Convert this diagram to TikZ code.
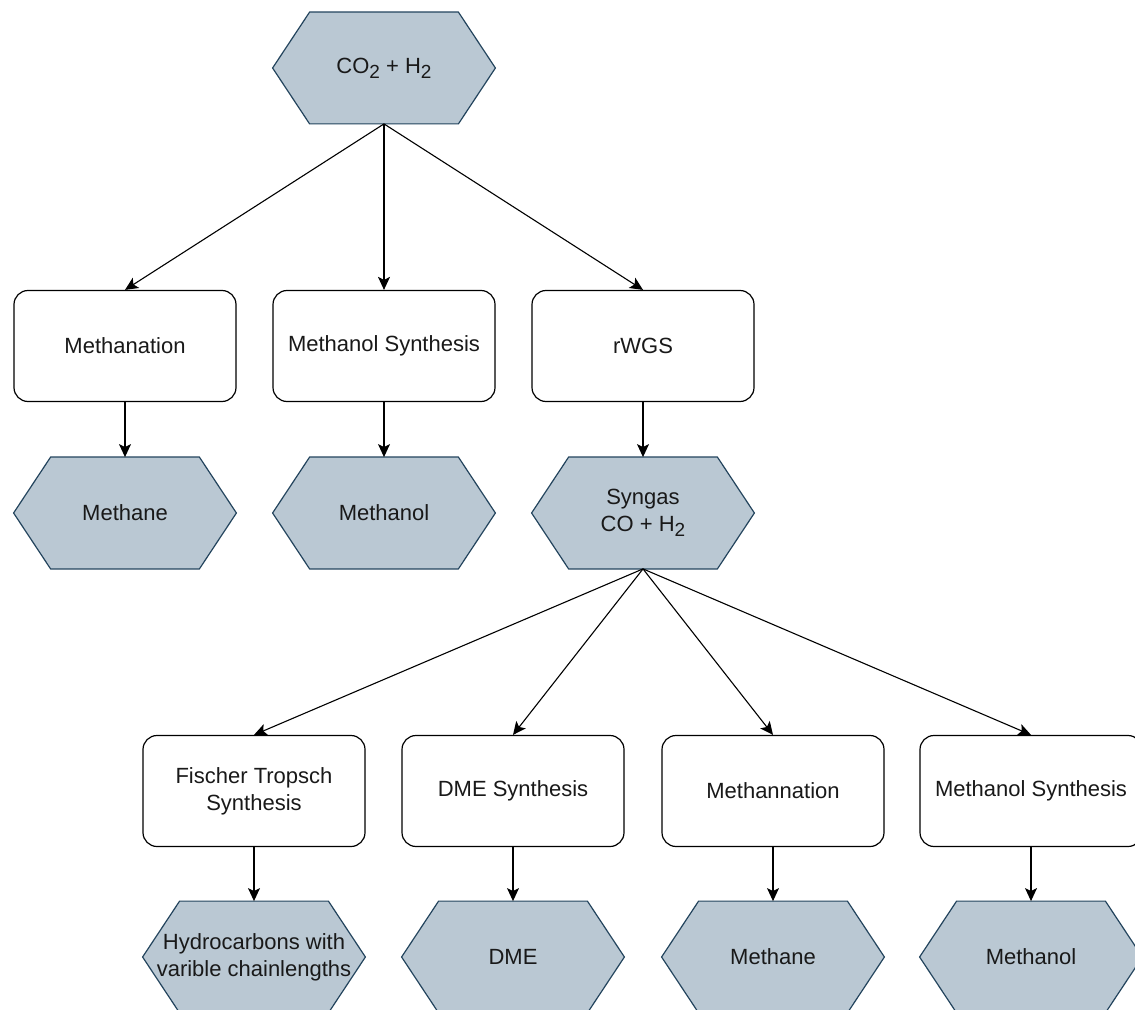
\documentclass[tikz,border=0pt]{standalone}
\usepackage{fontspec}
\setmainfont{Liberation Sans}
\usetikzlibrary{arrows.meta}
\pgfdeclarelayer{bg}\pgfsetlayers{bg,main}
\definecolor{hexfill}{HTML}{BAC8D3}
\definecolor{hexline}{HTML}{23445D}
\newcommand\subtwo{\raisebox{-2.6pt}{\fontsize{9.5}{9.5}\selectfont 2}}
\tikzset{
 lbl/.style={inner sep=0pt, align=center, font=\fontsize{11}{13.5}\selectfont, text=black!90},
 proc/.style={lbl, draw=black, fill=white, rounded corners=7pt, minimum width=111pt, minimum height=55.5pt, line width=0.6pt},
 prod/.style={lbl, minimum width=111pt, minimum height=55.5pt},
 hexshape/.style={fill=hexfill, draw=hexline, line width=0.6pt, line join=miter},
 arr/.style={-{Stealth[length=6.5pt,width=6pt,inset=1.5pt]}, line width=0.55pt}
}
\newcommand\hexbg[1]{\begin{pgfonlayer}{bg}\draw[hexshape] (#1.west) -- ([xshift=18.5pt]#1.north west) -- ([xshift=-18.5pt]#1.north east) -- (#1.east) -- ([xshift=-18.5pt]#1.south east) -- ([xshift=18.5pt]#1.south west) -- cycle;\end{pgfonlayer}}
\begin{document}
\begin{tikzpicture}[x=0.5pt,y=-0.5pt]
\useasboundingbox (0,0) rectangle (1135,1010);
% top
\node[prod] (src) at (384,68) {CO\subtwo{} + H\subtwo};
\hexbg{src}
% row 1
\node[proc] (meth) at (125,346) {Methanation};
\node[proc] (msyn) at (384,346) {Methanol Synthesis};
\node[proc] (rwgs) at (643,346) {rWGS};
% row 2
\node[prod] (methane) at (125,513) {Methane};
\node[prod] (methanol) at (384,513) {Methanol};
\node[prod] (syngas) at (643,513) {Syngas\\CO + H\subtwo};
\hexbg{methane}\hexbg{methanol}\hexbg{syngas}
% row 3
\node[proc] (ft) at (254,791) {Fischer Tropsch\\Synthesis};
\node[proc] (dme) at (513,791) {DME Synthesis};
\node[proc] (mnat) at (773,791) {Methannation};
\node[proc] (msyn2) at (1031,791) {Methanol Synthesis};
% row 4
\node[prod] (hc) at (254,957) {Hydrocarbons with\\varible chainlengths};
\node[prod] (dmep) at (513,957) {DME};
\node[prod] (methane2) at (773,957) {Methane};
\node[prod] (methanol2) at (1031,957) {Methanol};
\hexbg{hc}\hexbg{dmep}\hexbg{methane2}\hexbg{methanol2}
% connectors
\draw[arr] (src.south) -- (meth.north);
\draw[arr] (src.south) -- (msyn.north);
\draw[arr] (src.south) -- (rwgs.north);
\draw[arr] (meth.south) -- (methane.north);
\draw[arr] (msyn.south) -- (methanol.north);
\draw[arr] (rwgs.south) -- (syngas.north);
\draw[arr] (syngas.south) -- (ft.north);
\draw[arr] (syngas.south) -- (dme.north);
\draw[arr] (syngas.south) -- (mnat.north);
\draw[arr] (syngas.south) -- (msyn2.north);
\draw[arr] (ft.south) -- (hc.north);
\draw[arr] (dme.south) -- (dmep.north);
\draw[arr] (mnat.south) -- (methane2.north);
\draw[arr] (msyn2.south) -- (methanol2.north);
\end{tikzpicture}
\end{document}
